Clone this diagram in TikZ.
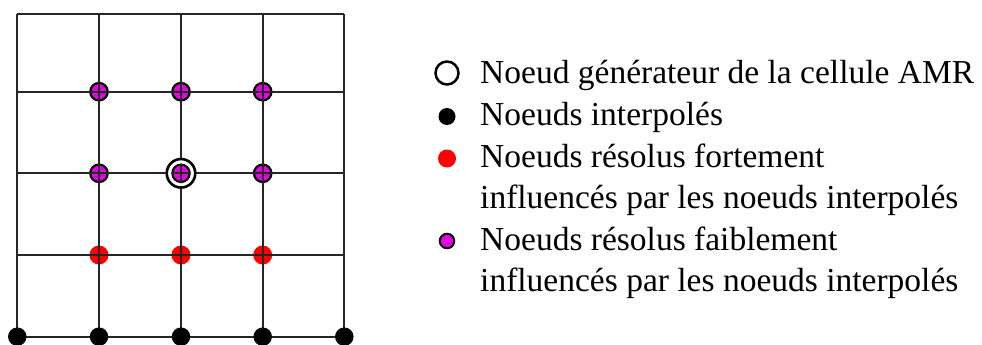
\documentclass[tikz,border=0pt]{standalone}
\usepackage{fontspec}
\setmainfont{Liberation Serif}
\definecolor{magfill}{RGB}{238,0,238}
\begin{document}
\begin{tikzpicture}[x=1pt,y=-1pt,
  gridline/.style={draw=black!85, line width=1.7pt},
  blacknode/.style={circle, fill=black, inner sep=0pt, minimum size=18.5pt},
  rednode/.style={circle, fill=red, inner sep=0pt, minimum size=19pt},
  magnode/.style={circle, fill=magfill, draw=black, line width=2.2pt, inner sep=0pt, minimum size=17.5pt,
    path picture={
      \foreach \o in {-3,3}{
        \draw[black!70, line width=0.35pt] ([shift={(-12,\o+3)}]path picture bounding box.center) -- ++(24,-6);
      }
    }},
  genring/.style={circle, draw=black, line width=2.6pt, inner sep=0pt, minimum size=28.5pt},
  legtext/.style={anchor=base west, inner sep=0pt, font=\fontsize{33.5}{41.5}\selectfont},
]
\useasboundingbox (0,0) rectangle (982,345);
\fill[white] (0,0) rectangle (982,345);
% grid coordinates
\foreach \i/\x in {0/17.3,1/99,2/181,3/262.7,4/344.3}{
  \foreach \j/\y in {0/14,1/91.7,2/173.3,3/255,4/336.7}{
    \coordinate (g\i\j) at (\x,\y);
  }
}
% magenta nodes
\node[magnode] (m11) at (g11) {};
\node[magnode] (m21) at (g21) {};
\node[magnode] (m31) at (g31) {};
\node[magnode] (m12) at (g12) {};
\node[magnode] (m22) at (g22) {};
\node[magnode] (m32) at (g32) {};
% red nodes
\node[rednode] (r13) at (g13) {};
\node[rednode] (r23) at (g23) {};
\node[rednode] (r33) at (g33) {};
% grid lines
\foreach \i in {0,...,4}{
  \draw[gridline] (g\i0) -- (g\i4);
  \draw[gridline] (g0\i) -- (g4\i);
}
% black nodes
\foreach \i in {0,...,4}{
  \node[blacknode] (b\i4) at (g\i4) {};
}
% generator ring
\draw[white, line width=3.6pt] (g22) circle (11.9);
\node[genring] (gen) at (g22) {};

% legend
\node[circle, draw=black, line width=2.5pt, inner sep=0pt, minimum size=23pt] (lgen) at (447,73) {};
\node[blacknode, minimum size=17pt] (lint) at (447,116.5) {};
\node[rednode, minimum size=18pt] (lred) at (447,158.5) {};
\node[magnode, minimum size=14.5pt, line width=2pt] (lmag) at (447,241) {};

\node[legtext] (t1) at (480,84) {Noeud générateur de la cellule AMR};
\node[legtext] (t2) at (480,125.5) {Noeuds interpolés};
\node[legtext] (t3) at (480,167) {Noeuds résolus fortement};
\node[legtext] (t4) at (480,208.5) {influencés par les noeuds interpolés};
\node[legtext] (t5) at (480,250) {Noeuds résolus faiblement};
\node[legtext] (t6) at (480,291.5) {influencés par les noeuds interpolés};
\end{tikzpicture}
\end{document}
